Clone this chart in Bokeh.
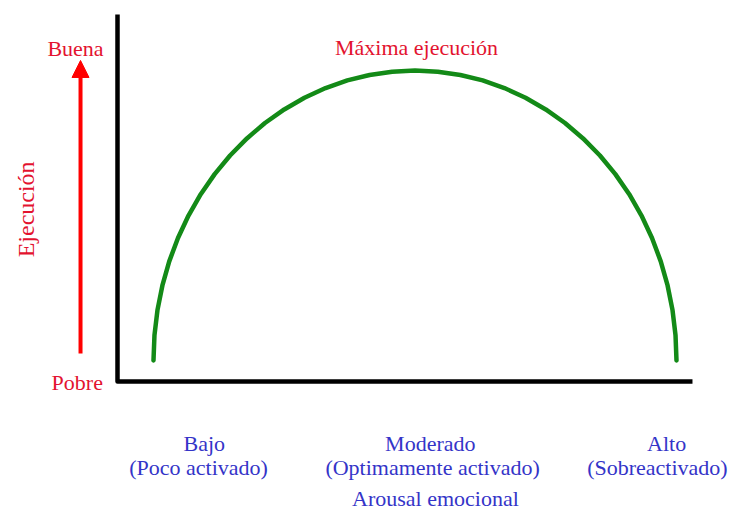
from bokeh.plotting import figure
from bokeh.models import Range1d, Arrow, NormalHead
from bokeh.core.properties import value
from bokeh.embed import file_html
from bokeh.resources import INLINE
import math

# ---- data ----
arousal = [0.626, 0.643, 0.695, 0.781, 0.900, 1.052, 1.235, 1.448, 1.690, 1.958,
           2.251, 2.565, 2.900, 3.252, 3.619, 3.997, 4.384, 4.777, 5.174, 5.571,
           5.964, 6.351, 6.729, 7.096, 7.448, 7.783, 8.097, 8.390, 8.658, 8.900,
           9.113, 9.296, 9.448, 9.567, 9.653, 9.705, 9.722]
performance = [0.572, 1.261, 1.944, 2.617, 3.274, 3.911, 4.522, 5.103, 5.650, 6.158,
               6.623, 7.044, 7.413, 7.732, 7.996, 8.203, 8.352, 8.442, 8.472, 8.442,
               8.352, 8.203, 7.996, 7.732, 7.413, 7.044, 6.623, 6.158, 5.650, 5.103,
               4.522, 3.911, 3.274, 2.617, 1.944, 1.261, 0.572]
levels = ["Bajo", "Moderado", "Alto"]
level_notes = ["(Poco activado)", "(Optimamente activado)", "(Sobreactivado)"]
level_x = [1.51, 5.44, 9.55]
note_x = [1.41, 5.48, 9.39]
x_title = "Arousal emocional"
y_title = "Ejecución"
y_top_label = "Buena"
y_bottom_label = "Pobre"
peak_label = "Máxima ejecución"

FONT = value("Liberation Serif")
RED = "#e3132f"
BLUE = "#3434c8"
GREEN = "#138a17"

p = figure(width=732, height=511, output_backend="svg", toolbar_location=None,
           x_range=Range1d(-2.0348, 10.696), y_range=Range1d(-3.542, 10.381),
           min_border=0)
p.axis.visible = False
p.grid.visible = False
p.outline_line_color = None
p.background_fill_color = "white"
p.border_fill_color = "white"

# axes
p.line([0, 0, 10], [10, 0, 0], line_color="black", line_width=4.5, line_join="round")

# curve
p.line(arousal, performance, line_color=GREEN, line_width=4.5, line_cap="round", line_join="round")

# arrow
p.add_layout(Arrow(end=NormalHead(size=17, fill_color="red", line_color="red"),
                   x_start=-0.643, y_start=0.763, x_end=-0.643, y_end=8.747,
                   line_color="red", line_width=4))

common = dict(text_font=FONT, text_font_size="22px", text_align="center",
              text_baseline="alphabetic")

p.text(x=[-0.73], y=[9.07], text=[y_top_label], text_color=RED, **common)
p.text(x=[-0.70], y=[-0.03], text=[y_bottom_label], text_color=RED, **common)
p.text(x=[5.20], y=[9.10], text=[peak_label], text_color=RED, **common)
p.text(x=[-1.60], y=[4.69], text=[y_title], text_color=RED, angle=math.pi / 2,
       text_font=FONT, text_font_size="24px", text_align="center", text_baseline="alphabetic")

p.text(x=level_x, y=[-1.69] * 3, text=levels, text_color=BLUE, **common)
p.text(x=note_x, y=[-2.34] * 3, text=level_notes, text_color=BLUE, **common)
p.text(x=[5.53], y=[-3.19], text=[x_title], text_color=BLUE, **common)

open("out.html", "w").write(file_html(p, INLINE))
